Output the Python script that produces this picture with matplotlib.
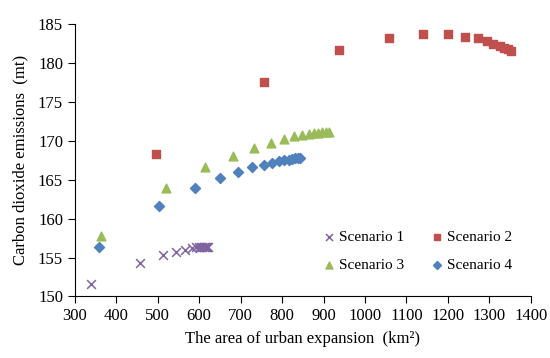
import matplotlib
matplotlib.use('Agg')
import matplotlib.pyplot as plt

plt.rcParams['font.family'] = ['Liberation Serif', 'DejaVu Serif']
plt.rcParams['font.size'] = 12
plt.rcParams['xtick.direction'] = 'out'
plt.rcParams['ytick.direction'] = 'out'

# Scenario data: urban expansion area (km2) vs CO2 emissions (mt)
s1_x = [340, 457, 513, 543, 566, 582, 592, 599, 604, 608, 611, 614, 616, 618, 620, 622]
s1_y = [151.6, 154.3, 155.3, 155.7, 156.0, 156.2, 156.3, 156.3, 156.35, 156.4, 156.4, 156.4, 156.4, 156.4, 156.4, 156.4]

s2_x = [496, 757, 938, 1058, 1141, 1200, 1242, 1272, 1294, 1310, 1325, 1336, 1345, 1352]
s2_y = [168.3, 177.6, 181.7, 183.2, 183.7, 183.7, 183.4, 183.2, 182.8, 182.5, 182.2, 182.0, 181.8, 181.6]

s3_x = [364, 520, 613, 681, 733, 773, 805, 829, 848, 864, 876, 887, 897, 906, 913]
s3_y = [157.8, 163.9, 166.6, 168.1, 169.1, 169.8, 170.3, 170.6, 170.8, 170.9, 171.0, 171.05, 171.1, 171.15, 171.2]

s4_x = [359, 504, 590, 651, 694, 728, 756, 776, 793, 805, 816, 825, 832, 838, 844]
s4_y = [156.3, 161.6, 163.9, 165.2, 166.0, 166.6, 166.9, 167.2, 167.4, 167.5, 167.6, 167.7, 167.75, 167.8, 167.8]

labels = ['Scenario 1', 'Scenario 2', 'Scenario 3', 'Scenario 4']

fig = plt.figure(figsize=(5.5, 3.58), dpi=100)
ax = fig.add_axes([0.136, 0.172, 0.829, 0.76])

h1 = ax.scatter(s1_x, s1_y, marker='x', s=40, color='#8064A2', linewidths=1.1, label=labels[0])
h2 = ax.scatter(s2_x, s2_y, marker='s', s=34, color='#C0504D', label=labels[1])
h3 = ax.scatter(s3_x, s3_y, marker='^', s=40, color='#9BBB59', label=labels[2])
h4 = ax.scatter(s4_x, s4_y, marker='D', s=26, color='#4F81BD', label=labels[3])

ax.set_xlim(300, 1400)
ax.set_ylim(150, 185)
ax.set_xticks(range(300, 1401, 100))
ax.set_yticks(range(150, 186, 5))
ax.spines['top'].set_visible(False)
ax.spines['right'].set_visible(False)
ax.tick_params(length=5, width=0.8)

ax.set_xlabel('The area of urban expansion  (km²)', labelpad=5)
ax.set_ylabel('Carbon dioxide emissions  (mt)', labelpad=7)

# matplotlib fills legend columns first, so reorder to get rows 1-2 / 3-4
ax.legend([h1, h3, h2, h4], [labels[0], labels[2], labels[1], labels[3]],
          ncol=2, frameon=False, loc='lower right', bbox_to_anchor=(0.99, 0.04),
          fontsize=11, handlelength=0.8, handletextpad=0.3, columnspacing=1.7,
          labelspacing=0.95, markerscale=0.8)

fig.savefig('out.png')
